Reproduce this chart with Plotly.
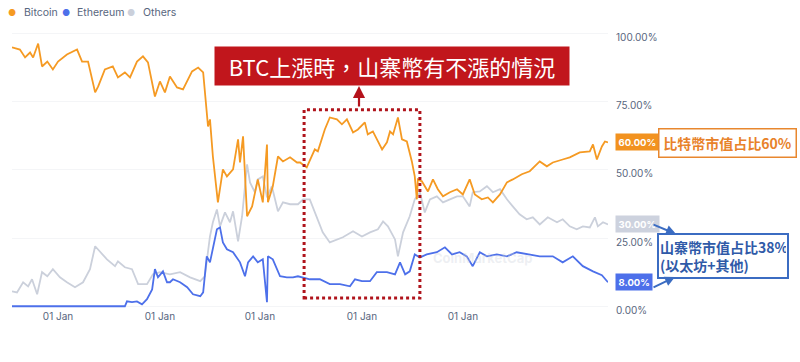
import plotly.graph_objects as go

# ---------------- data ----------------
btc_dates = ["2013-05-24","2013-07-20","2013-08-26","2013-10-01","2013-10-23","2013-11-28","2013-12-26","2014-02-02","2014-03-14","2014-04-20",
             "2014-06-23","2014-09-04","2014-10-10","2014-11-22","2015-01-12","2015-02-03","2015-03-23","2015-05-19","2015-06-25","2015-08-14",
             "2015-09-20","2015-11-09","2015-12-22","2016-01-27","2016-03-17","2016-04-22","2016-05-28","2016-07-03","2016-08-23","2016-10-05",
             "2016-12-09","2017-01-22","2017-02-27","2017-04-03","2017-04-17","2017-05-08","2017-06-13","2017-07-19","2017-08-17","2017-09-30",
             "2017-11-05","2017-11-19","2017-12-11","2018-01-09","2018-02-14","2018-03-27","2018-05-02","2018-06-01","2018-06-08","2018-07-13",
             "2018-08-19","2018-09-24","2018-11-14","2019-01-03","2019-01-25","2019-03-14","2019-05-11","2019-06-02","2019-07-22","2019-08-27",
             "2019-10-17","2019-11-22","2019-12-28","2020-02-10","2020-03-16","2020-05-05","2020-05-26","2020-07-02","2020-09-06","2020-10-11",
             "2020-11-02","2020-11-24","2020-12-29","2021-01-27","2021-03-03","2021-04-08","2021-04-29","2021-05-14","2021-05-21","2021-06-19",
             "2021-08-02","2021-09-07","2021-10-12","2021-11-18","2022-01-07","2022-02-27","2022-04-10","2022-05-29","2022-07-05","2022-08-24",
             "2022-10-07","2022-11-12","2023-01-02","2023-02-21","2023-04-04","2023-06-08","2023-08-04","2023-10-15","2023-12-05","2024-01-17",
             "2024-03-28","2024-05-18","2024-07-29","2024-10-09","2024-11-01","2024-11-29","2025-01-04","2025-01-26","2025-02-17"]
btc_values = [94.9,94.1,91.2,93.0,91.2,96.3,87.9,89.7,86.8,89.7,
              92.3,94.1,89.7,89.7,78.4,80.6,86.8,87.9,83.9,85.7,
              83.9,89.7,91.6,89.4,76.9,82.4,78.4,84.2,80.2,79.5,
              86.1,87.5,85.7,65.9,68.5,54.9,38.1,50.2,47.6,50.2,
              61.2,52.7,62.3,33.0,36.6,46.5,38.1,59.3,38.1,44.0,
              54.9,53.1,54.6,52.7,52.7,50.9,57.5,56.8,64.8,69.2,
              68.5,66.7,68.5,63.7,64.8,67.4,63.0,64.1,57.5,60.1,
              64.1,63.0,69.2,61.2,60.4,53.1,47.6,39.2,46.5,45.8,
              42.1,46.5,42.9,40.3,41.8,42.9,41.0,46.5,41.0,39.2,
              39.9,38.1,41.0,45.4,46.5,48.4,49.5,53.1,51.3,52.7,
              53.8,54.6,56.4,56.8,59.3,53.8,58.6,60.4,60.1]

eth_dates = ["2013-05-24","2015-08-14","2015-08-29","2015-10-04","2015-11-09","2015-12-15","2016-01-20","2016-02-26","2016-03-17","2016-04-08",
             "2016-05-14","2016-06-12","2016-07-03","2016-07-25","2016-09-14","2016-11-04","2016-12-16","2017-02-06","2017-02-27","2017-03-25",
             "2017-04-17","2017-05-08","2017-06-06","2017-06-28","2017-07-19","2017-08-17","2017-09-30","2017-11-19","2017-12-25","2018-01-16",
             "2018-02-21","2018-03-27","2018-05-02","2018-06-01","2018-06-08","2018-07-13","2018-09-03","2018-10-22","2018-12-05","2019-01-10",
             "2019-02-16","2019-04-05","2019-06-16","2019-08-27","2019-11-08","2020-01-19","2020-02-24","2020-04-14","2020-06-11","2020-07-30",
             "2020-10-11","2020-12-08","2021-01-13","2021-02-19","2021-03-24","2021-04-29","2021-06-05","2021-07-24","2021-10-05","2021-12-02",
             "2022-01-22","2022-03-18","2022-05-08","2022-06-20","2022-08-10","2022-09-30","2022-12-10","2023-02-21","2023-05-02","2023-08-04",
             "2023-10-15","2024-01-17","2024-03-28","2024-06-09","2024-08-20","2024-11-01","2025-01-04","2025-02-17"]
eth_values = [0,0,1.8,1.5,1.8,0.7,2.6,6.2,13.6,10.6,
              12.8,8.8,8.8,9.9,8.8,7.0,4.4,3.7,5.1,18.3,
              16.1,20.9,28.2,28.9,23.4,20.9,19.8,16.1,11.0,16.1,
              18.3,16.1,17.2,1.5,18.3,17.2,11.0,10.6,10.6,11.0,
              10.6,9.9,9.9,8.1,8.1,7.3,9.9,9.2,9.2,12.5,
              12.5,11.7,16.1,11.7,12.8,19.0,17.9,19.0,19.8,21.6,
              19.0,19.8,18.3,14.7,19.8,18.3,19.0,18.3,19.8,19.0,
              18.3,18.3,16.1,18.3,14.7,12.8,11.4,8.8]

oth_dates = ["2013-05-24","2013-06-29","2013-08-12","2013-09-17","2013-10-15","2013-11-21","2013-12-26","2014-02-02","2014-03-14","2014-05-04",
             "2014-06-23","2014-08-20","2014-10-17","2014-12-06","2015-01-12","2015-02-17","2015-04-07","2015-06-04","2015-06-25","2015-08-14",
             "2015-10-04","2015-11-17","2016-01-20","2016-03-03","2016-04-22","2016-07-03","2016-09-14","2016-11-25","2017-02-06","2017-03-11",
             "2017-04-17","2017-05-08","2017-06-06","2017-06-28","2017-08-03","2017-09-08","2017-09-30","2017-11-05","2017-12-04","2018-01-09",
             "2018-01-30","2018-03-06","2018-03-27","2018-05-02","2018-06-01","2018-07-06","2018-07-27","2018-08-19","2018-09-24","2018-11-14",
             "2019-01-10","2019-02-16","2019-04-05","2019-05-25","2019-07-07","2019-08-27","2019-10-17","2019-11-29","2020-02-10","2020-04-14",
             "2020-06-11","2020-08-07","2020-09-13","2020-10-18","2020-12-08","2020-12-29","2021-02-04","2021-03-24","2021-04-29","2021-06-05",
             "2021-07-10","2021-08-16","2021-10-05","2021-11-18","2022-01-07","2022-02-27","2022-04-10","2022-05-29","2022-06-20","2022-08-10",
             "2022-09-30","2022-11-12","2023-01-02","2023-02-21","2023-04-04","2023-05-23","2023-07-13","2023-08-26","2023-10-15","2023-12-12",
             "2024-02-16","2024-03-28","2024-05-18","2024-07-07","2024-08-20","2024-10-09","2024-11-15","2024-12-06","2025-01-12","2025-02-17"]
oth_values = [5.5,5.1,8.8,7.3,9.9,4.4,12.5,11.0,13.6,10.6,
              8.8,7.0,8.8,13.6,22.0,19.8,17.2,14.7,16.5,14.3,
              13.6,8.1,8.1,11.7,12.5,11.7,12.5,10.6,9.2,11.0,
              25.6,30.8,35.5,29.3,34.4,30.8,34.8,23.8,33.0,52.0,
              45.4,41.8,46.5,47.6,39.9,44.0,39.9,34.8,38.1,37.4,
              37.4,39.2,39.2,33.0,27.1,23.4,24.5,25.3,27.5,25.6,
              27.1,28.2,31.1,29.3,24.5,18.3,27.1,33.0,39.2,41.8,
              34.4,39.2,40.3,38.1,39.2,40.3,40.3,36.6,41.8,42.1,
              44.0,41.8,42.9,39.2,36.6,33.7,31.9,32.6,30.0,32.6,
              30.8,31.9,29.3,28.2,29.3,28.9,32.6,29.3,30.8,30.0]

series_names = ["Bitcoin", "Ethereum", "Others"]
badge_labels = ["60.00%", "8.00%", "30.00%"]
x_tick_dates = ["2014-04-20", "2016-04-22", "2018-04-11", "2020-04-14", "2022-04-10"]
x_tick_text = ["01 Jan"] * 5
y_tick_vals = [0, 25, 50, 75, 100]
y_tick_text = ["0.00%", "25.00%", "50.00%", "75.00%", "100.00%"]
highlight_start, highlight_end = "2019-02-23", "2021-06-05"

# ---------------- styling ----------------
C_BTC, C_ETH, C_OTH = "#F59A23", "#4D70EA", "#CBD0DB"
TXT = "#58667E"
FONT = "Inter"
CJK = "Noto Sans CJK TC"

W, H = 800, 362
L, R, T, B = 12, 608, 28, 309   # plot area in pixels


def px(x):
    return (x - L) / (R - L)


def py(y):
    return (B - y) / (B - T)


fig = go.Figure()
for name, xs, ys, col in [(series_names[2], oth_dates, oth_values, C_OTH),
                          (series_names[1], eth_dates, eth_values, C_ETH),
                          (series_names[0], btc_dates, btc_values, C_BTC)]:
    fig.add_trace(go.Scatter(x=xs, y=ys, name=name, mode="lines",
                             line=dict(color=col, width=1.8), showlegend=False))

annotations = []

# legend (dot + label)
for name, col, dx, tx in [(series_names[0], C_BTC, 12, 21.5),
                          (series_names[1], C_ETH, 66, 75),
                          (series_names[2], C_OTH, 131, 141)]:
    annotations.append(dict(xref="paper", yref="paper", x=px(dx), y=py(12.5), text="●",
                            showarrow=False, xanchor="center", yanchor="middle",
                            font=dict(size=9, color=col, family=FONT)))
    annotations.append(dict(xref="paper", yref="paper", x=px(tx), y=py(12.5), text=name,
                            showarrow=False, xanchor="left", yanchor="middle",
                            font=dict(size=10.5, color=TXT, family=FONT)))

# last-value badges
for lab, val, col in [(badge_labels[0], btc_values[-1], "#F2921F"),
                      (badge_labels[1], eth_values[-1], "#4D70EA"),
                      (badge_labels[2], oth_values[-1], "#CDD2DE")]:
    annotations.append(dict(xref="paper", yref="y", x=px(615), y=val, text="<b>%s</b>" % lab,
                            showarrow=False, xanchor="left", yanchor="middle",
                            bgcolor=col, borderpad=2.5,
                            font=dict(size=9.5, color="white", family=FONT)))

# watermark
annotations.append(dict(xref="paper", yref="paper", x=px(534), y=py(268), text="<b>CoinMarketCap</b>",
                        showarrow=False, font=dict(size=13, color="rgba(205,210,220,0.35)", family=FONT)))

# title box
annotations.append(dict(xref="paper", yref="paper", x=px(392), y=py(66),
                        text="BTC上漲時，山寨幣有不漲的情況", showarrow=False,
                        xanchor="center", yanchor="middle", width=354, height=38, borderpad=0,
                        bgcolor="#C1161C", font=dict(size=22, color="white", family=CJK)))
# red arrow from highlight box up to title
annotations.append(dict(xref="paper", yref="paper", x=px(359), y=py(86), ax=0, ay=22,
                        axref="pixel", ayref="pixel", text="", showarrow=True,
                        arrowhead=2, arrowsize=1.1, arrowwidth=2.2, arrowcolor="#B5121B"))

# orange callout
annotations.append(dict(xref="paper", yref="paper", x=px(727.5), y=py(142.5),
                        text="<b>比特幣市值占比60%</b>", showarrow=False,
                        xanchor="center", yanchor="middle", width=134, height=25, borderpad=1,
                        bgcolor="white", bordercolor="#E8872E", borderwidth=1.5,
                        font=dict(size=14, color="#E8822A", family=CJK)))
# blue callout
annotations.append(dict(xref="paper", yref="paper", x=px(723), y=py(255.5),
                        text="<b>山寨幣市值占比38%<br>(以太坊+其他)</b>", showarrow=False, align="left",
                        xanchor="center", yanchor="middle", width=126, height=40, borderpad=1,
                        bgcolor="white", bordercolor="#3B6CC2", borderwidth=2,
                        font=dict(size=14, color="#2F5AA8", family=CJK)))
# blue arrows from badges to callout
annotations.append(dict(xref="paper", yref="paper", x=px(676), y=py(234), ax=-24, ay=-10,
                        text="", showarrow=True, arrowhead=2, arrowsize=1, arrowwidth=2,
                        arrowcolor="#3B6CC2"))
annotations.append(dict(xref="paper", yref="paper", x=px(675), y=py(277), ax=-23, ay=11,
                        text="", showarrow=True, arrowhead=2, arrowsize=1, arrowwidth=2,
                        arrowcolor="#3B6CC2"))

shapes = [dict(type="rect", xref="x", yref="y", x0=highlight_start, x1=highlight_end,
               y0=3.0, y1=72.0, line=dict(color="#B0141C", width=3, dash="dot"),
               fillcolor="rgba(0,0,0,0)")]

fig.update_layout(
    width=W, height=H,
    margin=dict(l=L, r=W - R, t=T, b=H - B, pad=0),
    paper_bgcolor="white", plot_bgcolor="white",
    showlegend=False,
    annotations=annotations,
    shapes=shapes,
    xaxis=dict(type="date", range=[btc_dates[0], btc_dates[-1]],
               tickmode="array", tickvals=x_tick_dates, ticktext=x_tick_text,
               showgrid=False, zeroline=False, showline=False, ticks="",
               tickfont=dict(size=10, color=TXT, family=FONT)),
    yaxis=dict(side="right", range=[-1, 102], tickmode="array",
               tickvals=y_tick_vals, ticktext=y_tick_text,
               showgrid=True, gridcolor="#F4F5F7", zeroline=False, showline=False,
               ticks="", ticklabelstandoff=7, ticklabelshift=4,
               tickfont=dict(size=10, color=TXT, family=FONT)),
)

fig.write_html("out.html")
